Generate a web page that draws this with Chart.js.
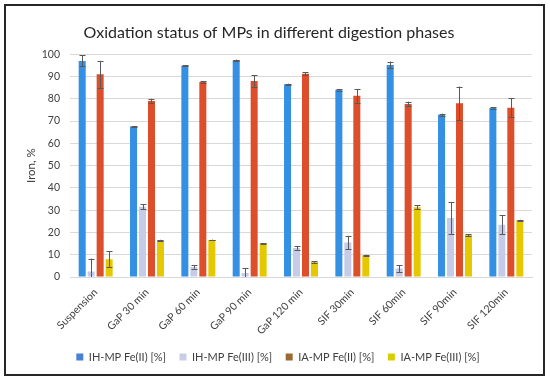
<!DOCTYPE html>
<html>
<head>
<meta charset="utf-8">
<script src="https://cdn.jsdelivr.net/npm/chart.js@4/dist/chart.umd.min.js"></script>
<style>
  html, body { margin: 0; padding: 0; background: #fff; }
  #frame { position: absolute; left: 4px; top: 4px; width: 537px; height: 368px; border: 2px solid #262626; background: #fff; }
  canvas { display: block; }
</style>
</head>
<body>
<div id="frame"><canvas id="c" width="537" height="368"></canvas></div>
<script>
const categories = ["Suspension", "GaP 30 min", "GaP 60 min", "GaP 90 min", "GaP 120 min", "SIF 30min", "SIF 60min", "SIF 90min", "SIF 120min"];
const seriesNames = ["IH-MP Fe(II) [%]", "IH-MP Fe(III) [%]", "IA-MP Fe(II) [%]", "IA-MP Fe(III) [%]"];
const ihFe2 = [97, 67.5, 94.8, 97.3, 86.5, 84, 95.2, 72.8, 75.8];
const ihFe3 = [2.5, 31.5, 4.5, 1.8, 13, 15.5, 3.8, 26.5, 23.5];
const iaFe2 = [91, 79, 87.5, 88, 91.2, 81.3, 77.7, 78, 76];
const iaFe3 = [8, 16.5, 16.6, 15, 6.7, 9.8, 31.3, 18.8, 25.5];
const ihFe2Err = [2.5, 0.3, 0.3, 0.3, 0.3, 0.3, 1.5, 0.5, 0.3];
const ihFe3Err = [5.8, 1.2, 0.7, 2.2, 0.8, 3, 1.5, 7.2, 4.2];
const iaFe2Err = [6, 1, 0.3, 2.5, 0.6, 3, 1, 7.5, 4.3];
const iaFe3Err = [3.5, 0.2, 0.2, 0.2, 0.3, 0.2, 1, 0.5, 0.2];
const yTicks = [0, 10, 20, 30, 40, 50, 60, 70, 80, 90, 100];

const barColors = ['#3490e2', '#c6cce8', '#dd4e2b', '#e6c800'];
const legendColors = ['#4a7fd8', '#c8cde8', '#9b6a32', '#d6cf00'];
const values = [ihFe2, ihFe3, iaFe2, iaFe3];
const errors = [ihFe2Err, ihFe3Err, iaFe2Err, iaFe3Err];

const errorBars = {
  id: 'errorBars',
  afterDatasetsDraw(chart) {
    const ctx = chart.ctx, y = chart.scales.y, a = chart.chartArea;
    ctx.save();
    ctx.beginPath();
    ctx.rect(a.left, a.top - 10, a.right - a.left, a.bottom - a.top + 10);
    ctx.clip();
    ctx.strokeStyle = '#595959';
    ctx.lineWidth = 1;
    chart.data.datasets.forEach((ds, di) => {
      const meta = chart.getDatasetMeta(di);
      meta.data.forEach((el, i) => {
        const v = ds.data[i], e = errors[di][i];
        const yTop = y.getPixelForValue(v + e), yBot = y.getPixelForValue(Math.max(0, v - e));
        const x = Math.round(el.x) + 0.5;
        ctx.beginPath();
        ctx.moveTo(x, yTop); ctx.lineTo(x, yBot);
        ctx.moveTo(x - 3, Math.round(yTop) + 0.5); ctx.lineTo(x + 3, Math.round(yTop) + 0.5);
        if (v - e > 0) { ctx.moveTo(x - 3, Math.round(yBot) + 0.5); ctx.lineTo(x + 3, Math.round(yBot) + 0.5); }
        ctx.stroke();
      });
    });
    ctx.restore();
  }
};

const legendShift = {
  id: 'legendShift',
  afterLayout(chart) {
    if (chart.legend) { chart.legend.left += 9; chart.legend.right += 9; }
  }
};

new Chart(document.getElementById('c'), {
  type: 'bar',
  data: {
    labels: categories,
    datasets: values.map((d, i) => ({
      label: seriesNames[i],
      data: d,
      backgroundColor: barColors[i],
      borderWidth: 0,
      categoryPercentage: 0.7,
      barPercentage: 0.78
    }))
  },
  options: {
    responsive: false,
    animation: false,
    layout: { padding: { left: 0, right: 11, top: 0, bottom: 1.5 } },
    plugins: {
      title: {
        display: true,
        text: 'Oxidation status of MPs in different digestion phases',
        font: { family: 'Lato', size: 16, weight: 'normal' },
        color: '#262626',
        padding: { top: 17, bottom: 12 }
      },
      legend: {
        position: 'bottom',
        labels: {
          font: { family: 'Lato', size: 11 },
          color: '#404040',
          boxWidth: 7,
          boxHeight: 7,
          padding: 13.5,
          generateLabels(chart) {
            return chart.data.datasets.map((ds, i) => ({
              text: ds.label, fillStyle: legendColors[i], strokeStyle: legendColors[i],
              lineWidth: 0, datasetIndex: i, hidden: false, fontColor: '#404040'
            }));
          }
        }
      },
      tooltip: { enabled: false }
    },
    scales: {
      x: {
        grid: { display: false, drawTicks: false },
        border: { display: true, color: '#d9d9d9' },
        ticks: {
          font: { family: 'Lato', size: 10.5 },
          color: '#404040',
          autoSkip: false,
          maxRotation: 45, minRotation: 45,
          padding: 9
        },
        afterFit(s) { s.height = 61; }
      },
      y: {
        min: 0, max: 100,
        afterBuildTicks(s) { s.ticks = yTicks.map(v => ({ value: v })); },
        grid: { color: '#d9d9d9', drawTicks: false },
        border: { display: false },
        ticks: { font: { family: 'Lato', size: 10.5 }, color: '#404040', padding: 10 },
        title: {
          display: true, text: 'Iron, %',
          font: { family: 'Lato', size: 11.5 }, color: '#404040',
          padding: { top: 18, bottom: 0 }
        },
        afterFit(s) { s.width = 64; }
      }
    }
  },
  plugins: [errorBars, legendShift]
});
</script>
</body>
</html>
